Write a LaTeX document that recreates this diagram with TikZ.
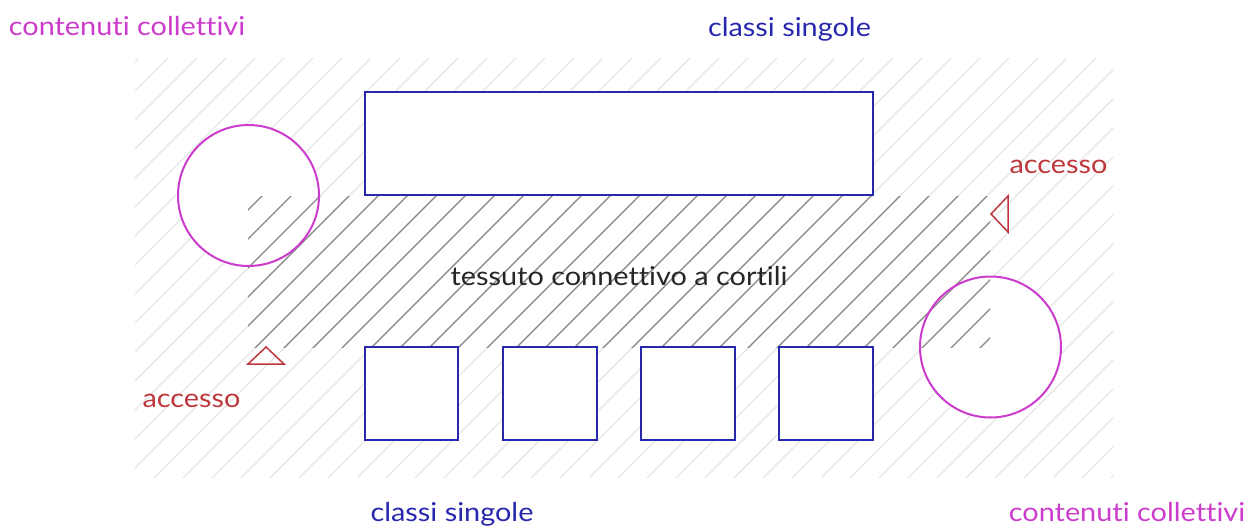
\documentclass[tikz,border=0pt]{standalone}
\usepackage{fontspec}
\setmainfont[Ligatures={NoCommon}]{Lato}
\definecolor{magc}{RGB}{204,60,204}
\definecolor{bluec}{RGB}{40,40,175}
\definecolor{redc}{RGB}{190,55,60}
\definecolor{lighth}{RGB}{230,230,230}
\definecolor{darkh}{RGB}{135,135,135}
\newcommand{\wide}[1]{\scalebox{1.11}[1]{#1}}
\tikzset{
  room/.style={draw=bluec, line width=2pt, fill=white, inner sep=0pt, outer sep=0pt},
  hall/.style={draw=magc, line width=2pt, circle, inner sep=0pt, outer sep=0pt, minimum size=141pt},
  gate/.style={draw=redc, line width=1.5pt, line join=miter},
  lbl/.style={font=\fontsize{26}{30}\selectfont, anchor=base, inner sep=0pt},
}
\begin{document}
\begin{tikzpicture}[x=1pt,y=-1pt]
\useasboundingbox (0,0) rectangle (1249,527);
% light hatching
\begin{scope}
\clip (135,58) rectangle (1113,478);
\foreach \c in {197,226,...,1589}{
  \draw[lighth, line width=1.2pt] ({\c-478},478) -- ({\c-58},58);
}
\end{scope}
% white interiors
\fill[white] (248.5,195.5) circle (70.5);
\fill[white] (990.5,347) circle (70.5);
% dark hatching
\begin{scope}
\clip (248,196) rectangle (990,347);
\foreach \c in {197,226,...,1589}{
  \draw[darkh, line width=1.2pt] ({\c-478},478) -- ({\c-58},58);
}
\end{scope}
% rooms
\node[room, minimum width=508pt, minimum height=103pt] (top) at (619,143.5) {};
\node[room, minimum width=93pt, minimum height=93pt] (s1) at (411.5,393.5) {};
\node[room, minimum width=94pt, minimum height=93pt] (s2) at (550,393.5) {};
\node[room, minimum width=94pt, minimum height=93pt] (s3) at (688,393.5) {};
\node[room, minimum width=94pt, minimum height=93pt] (s4) at (826,393.5) {};
% halls
\node[hall] (c1) at (248.5,195.5) {};
\node[hall] (c2) at (990.5,347) {};
% access triangles
\draw[gate] (248,364) -- (266,347) -- (284,364) -- cycle;
\draw[gate] (991,214) -- (1008,196) -- (1008,232) -- cycle;
% labels
\node[lbl, text=magc] (t1) at (127,36) {\wide{contenuti collettivi}};
\node[lbl, text=bluec] (t2) at (789.5,37) {\wide{classi singole}};
\node[lbl, text=redc] (t3) at (1058.5,173) {\wide{accesso}};
\node[lbl, text=black!85] (t4) at (619,285) {\wide{tessuto connettivo a cortili}};
\node[lbl, text=redc] (t5) at (191.5,407) {\wide{accesso}};
\node[lbl, text=bluec] (t6) at (452,521) {\wide{classi singole}};
\node[lbl, text=magc] (t7) at (1127,521) {\wide{contenuti collettivi}};
\end{tikzpicture}
\end{document}
